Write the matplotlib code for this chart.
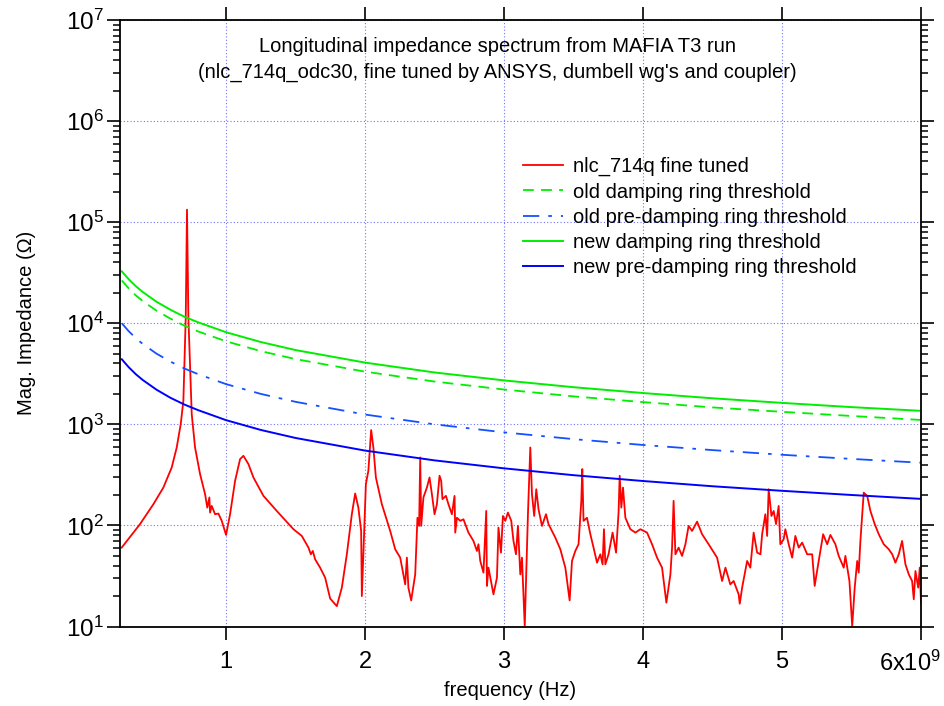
import matplotlib
matplotlib.use("Agg")
import matplotlib.pyplot as plt
from matplotlib.ticker import FixedLocator, FixedFormatter, NullFormatter
from matplotlib.transforms import ScaledTranslation
import numpy as np

plt.rcParams['font.family'] = ['Liberation Sans', 'DejaVu Sans']
plt.rcParams['mathtext.fontset'] = 'custom'
plt.rcParams['mathtext.rm'] = 'Liberation Sans'
plt.rcParams['mathtext.it'] = 'Liberation Sans:italic'

# ---- data (frequency in GHz, impedance in Ohm) ----
red_f_ghz = [
    0.249, 0.381, 0.477, 0.549, 0.609, 0.645, 0.674, 0.693, 0.710, 0.719,
    0.729, 0.753, 0.777, 0.813, 0.849, 0.865, 0.880, 0.885, 0.897, 0.921,
    0.945, 0.969, 1.000, 1.029, 1.065, 1.101, 1.125, 1.161, 1.197, 1.269,
    1.365, 1.485, 1.545, 1.593, 1.610, 1.624, 1.641, 1.677, 1.713, 1.749,
    1.797, 1.833, 1.869, 1.905, 1.929, 1.952, 1.972, 1.977, 1.996, 2.006,
    2.024, 2.044, 2.060, 2.078, 2.121, 2.181, 2.217, 2.253, 2.289, 2.301,
    2.312, 2.332, 2.361, 2.377, 2.389, 2.397, 2.404, 2.420, 2.445, 2.464,
    2.481, 2.500, 2.517, 2.536, 2.548, 2.557, 2.582, 2.600, 2.625, 2.644,
    2.649, 2.661, 2.685, 2.708, 2.744, 2.780, 2.805, 2.816, 2.829, 2.852,
    2.872, 2.877, 2.888, 2.924, 2.949, 2.960, 2.978, 2.992, 3.009, 3.028,
    3.052, 3.068, 3.086, 3.100, 3.117, 3.129, 3.149, 3.172, 3.189, 3.201,
    3.217, 3.232, 3.248, 3.273, 3.302, 3.320, 3.369, 3.405, 3.441, 3.460,
    3.472, 3.489, 3.513, 3.536, 3.556, 3.563, 3.572, 3.597, 3.621, 3.644,
    3.669, 3.693, 3.709, 3.719, 3.729, 3.752, 3.781, 3.806, 3.824, 3.832,
    3.844, 3.856, 3.873, 3.909, 3.945, 3.981, 4.029, 4.065, 4.101, 4.137,
    4.168, 4.197, 4.209, 4.220, 4.233, 4.256, 4.281, 4.305, 4.328, 4.353,
    4.389, 4.425, 4.472, 4.533, 4.569, 4.593, 4.628, 4.652, 4.688, 4.696,
    4.713, 4.749, 4.772, 4.796, 4.821, 4.845, 4.857, 4.880, 4.893, 4.904,
    4.924, 4.940, 4.957, 4.976, 4.988, 5.012, 5.024, 5.048, 5.073, 5.096,
    5.120, 5.145, 5.181, 5.217, 5.235, 5.264, 5.296, 5.325, 5.348, 5.384,
    5.408, 5.444, 5.456, 5.485, 5.505, 5.523, 5.541, 5.552, 5.564, 5.588,
    5.613, 5.636, 5.667, 5.696, 5.732, 5.768, 5.793, 5.816, 5.840, 5.864,
    5.888, 5.912, 5.936, 5.948, 5.960, 5.980, 5.991, 6.000,
]
red_z = [
    60.3, 103, 162, 237, 374, 590, 1007, 1714, 11500, 133000,
    11500, 1265, 590, 322, 204, 150, 189, 134, 156, 129,
    131, 111, 80.5, 129, 276, 453, 488, 404, 298, 196,
    139, 91.7, 78.7, 60.3, 51.8, 55.9, 46.2, 38.2, 30.4, 18.9,
    15.9, 24.2, 51.8, 129, 207, 150, 88.2, 20.0, 111, 256,
    347, 878, 590, 298, 162, 88.2, 58.1, 48.0, 26.1, 48.0,
    24.2, 18.1, 32.8, 119, 98.9, 470, 98.9, 189, 237, 298,
    204, 129, 162, 310, 276, 182, 196, 162, 129, 196,
    84.9, 119, 111, 115, 84.9, 70.2, 55.9, 65.1, 44.5, 34.1,
    139, 25.2, 38.2, 20.8, 30.4, 95.1, 53.8, 124, 111, 134,
    111, 70.2, 51.8, 98.9, 32.8, 48.0, 10.1, 129, 590, 204,
    124, 228, 145, 98.9, 129, 103, 75.7, 58.1, 38.2, 24.2,
    18.1, 44.5, 55.9, 65.1, 175, 361, 111, 119, 81.8, 60.3,
    42.8, 51.8, 41.2, 91.7, 41.2, 51.8, 84.9, 53.8, 134, 310,
    150, 237, 119, 91.7, 84.9, 91.7, 84.9, 65.1, 48.0, 38.2,
    17.2, 32.8, 60.3, 175, 51.8, 60.3, 49.9, 65.1, 98.9, 88.2,
    109, 81.8, 65.1, 48.0, 28.2, 38.2, 26.1, 28.2, 20.8, 16.8,
    24.2, 44.5, 38.2, 84.9, 53.8, 51.8, 81.8, 129, 78.7, 228,
    124, 139, 103, 156, 65.1, 73.0, 91.7, 65.1, 48.0, 78.7,
    60.3, 67.6, 51.8, 51.8, 25.2, 44.5, 81.8, 65.1, 80.5, 65.1,
    49.9, 38.2, 49.9, 28.2, 10.1, 24.2, 44.5, 34.1, 70.2, 211,
    196, 139, 103, 81.8, 65.1, 58.1, 51.8, 42.8, 51.8, 70.2,
    41.2, 32.8, 28.2, 18.6, 35.4, 24.2, 38.2, 17.2,
]

thr_f_ghz = [0.25, 0.3, 0.35, 0.4, 0.5, 0.6, 0.7, 0.8, 1.0, 1.25,
             1.5, 2.0, 2.5, 3.0, 3.5, 4.0, 4.5, 5.0, 5.5, 6.0]
new_dr = [32600, 27200, 23300, 20400, 16300, 13600, 11600, 10200, 8150, 6520,
          5430, 4080, 3260, 2720, 2330, 2040, 1810, 1630, 1480, 1360]
old_dr = [26500, 22100, 18900, 16600, 13300, 11100, 9470, 8290, 6630, 5300,
          4420, 3320, 2650, 2210, 1890, 1660, 1470, 1330, 1210, 1105]
old_pdr = [10000, 8330, 7140, 6250, 5000, 4170, 3570, 3130, 2500, 2000,
           1670, 1250, 1000, 833, 714, 625, 556, 500, 455, 417]
new_pdr = [4400, 3670, 3140, 2750, 2200, 1830, 1570, 1380, 1100, 880,
           733, 550, 440, 367, 314, 275, 244, 220, 200, 183]

labels = ["nlc_714q fine tuned", "old damping ring threshold",
          "old pre-damping ring threshold", "new damping ring threshold",
          "new pre-damping ring threshold"]

x_ticks = [1e9, 2e9, 3e9, 4e9, 5e9, 6e9]
x_ticklabels = ["1", "2", "3", "4", "5", r"6x10$^{9}$"]
y_ticks = [1e1, 1e2, 1e3, 1e4, 1e5, 1e6, 1e7]
y_ticklabels = [r"$10^{1}$", r"$10^{2}$", r"$10^{3}$", r"$10^{4}$",
                r"$10^{5}$", r"$10^{6}$", r"$10^{7}$"]

W, H = 945, 706
fig = plt.figure(figsize=(W / 100, H / 100), dpi=100)
ax = fig.add_axes([120 / W, 1 - 626.5 / H, 801 / W, 606.5 / H])

rf = np.array(red_f_ghz) * 1e9
tf = np.array(thr_f_ghz) * 1e9

ax.plot(rf, red_z, color='#ff0000', lw=1.3, label=labels[0])
ax.plot(tf, old_dr, color='#00ee00', lw=1.3, dashes=(6, 4), label=labels[1])
ax.plot(tf, old_pdr, color='#1450ff', lw=1.3, dashes=(9, 5, 2, 5), label=labels[2])
ax.plot(tf, new_dr, color='#00ee00', lw=1.4, label=labels[3])
ax.plot(tf, new_pdr, color='#0000ff', lw=1.4, label=labels[4])

ax.set_yscale('log')
ax.set_xlim(0.237e9, 6.0e9)
ax.set_ylim(10, 1e7)

ax.xaxis.set_major_locator(FixedLocator(x_ticks))
ax.xaxis.set_major_formatter(FixedFormatter(x_ticklabels))
ax.yaxis.set_major_locator(FixedLocator(y_ticks))
ax.yaxis.set_major_formatter(FixedFormatter(y_ticklabels))
minor = [m * 10 ** e for e in range(1, 7) for m in range(2, 10)]
ax.yaxis.set_minor_locator(FixedLocator(minor))
ax.yaxis.set_minor_formatter(NullFormatter())
ax.xaxis.set_minor_locator(FixedLocator([]))

ax.grid(True, which='major', color='#7070ff', linestyle=(0, (1, 2)), linewidth=0.8)
for s in ax.spines.values():
    s.set_linewidth(1.3)
ax.tick_params(axis='both', which='major', direction='out', length=9.5, width=1.2,
               top=True, right=True, labeltop=False, labelright=False)
ax.tick_params(axis='y', which='major', labelsize=17.5, pad=2)
ax.tick_params(axis='x', which='major', labelsize=17, pad=8)
ax.tick_params(axis='y', which='minor', direction='out', length=5, width=1.1,
               left=True, right=True)

fig.canvas.draw()
last = ax.get_xticklabels()[-1]
last.set_transform(last.get_transform() + ScaledTranslation(-11 / 100, 0, fig.dpi_scale_trans))

ax.text(0.471, 0.957, "Longitudinal impedance spectrum from MAFIA T3 run",
        transform=ax.transAxes, ha='center', va='center', fontsize=14.5)
ax.text(0.471, 0.914,
        "(nlc_714q_odc30, fine tuned by ANSYS, dumbell wg's and coupler)",
        transform=ax.transAxes, ha='center', va='center', fontsize=14.5)

fig.text(510 / W, 1 - 690 / H, "frequency (Hz)", ha='center', va='center', fontsize=14.5)
fig.text(27 / W, 1 - 323 / H, "Mag. Impedance (Ω)", ha='center', va='center',
         rotation=90, fontsize=14.5)

leg = ax.legend(loc='upper left', bbox_to_anchor=((519 - 120) / 801, (626.5 - 153) / 606.5),
                frameon=False, fontsize=14.5, handlelength=2.0, handletextpad=0.5,
                labelspacing=0.31, borderaxespad=0, borderpad=0.2)

fig.savefig("out.png", dpi=100)
